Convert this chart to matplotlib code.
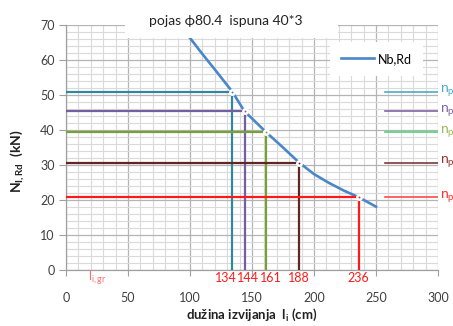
import matplotlib
matplotlib.use("Agg")
import matplotlib.pyplot as plt
from matplotlib.patches import Rectangle
from matplotlib.ticker import MultipleLocator

#%% --- Data ---

# buckling resistance curve Nb,Rd along the buckling length
duzina = [100, 110, 120, 134, 144, 150, 161, 175, 188, 200, 212, 224, 236, 250]
nb_rd = [66.3, 61.7, 57.3, 51.0, 45.3, 43.3, 39.5, 35.0, 30.7, 27.4, 24.9, 22.7, 20.8, 18.1]

# force levels n_p and the matching buckling lengths
np_levels = [51.0, 45.3, 39.5, 30.7, 20.8]
np_lengths = [134, 144, 161, 188, 236]
np_colors = ["#31889e", "#7460a0", "#77a03a", "#632523", "#ff1a1a"]
np_key_colors = ["#4bacc6", "#8064a2", "#4fd27a", "#7a3b3b", "#ff4a4a"]
np_text_colors = ["#4bacc6", "#8064a2", "#9bbb59", "#943634", "#ff3030"]
label_shift = [-6, 3, 5, 0, 0]   # px, keeps the crowded labels apart

x_ticks = [0, 50, 100, 150, 200, 250, 300]
y_ticks = [0, 10, 20, 30, 40, 50, 60, 70]

#%% --- Style ---

plt.rcParams["font.family"] = ["Lato", "DejaVu Sans"]
plt.rcParams["mathtext.fontset"] = "custom"
plt.rcParams["mathtext.rm"] = "Lato"
plt.rcParams["mathtext.bf"] = "Lato:bold"
plt.rcParams["mathtext.it"] = "Lato:italic"

#%% --- Figure ---

fig = plt.figure(figsize=(4.53, 3.26), dpi=100)
ax = fig.add_axes([66 / 453, 56 / 326, 372 / 453, 245 / 326])

ax.set_xlim(0, 300)
ax.set_ylim(0, 70)
ax.set_xticks(x_ticks)
ax.set_yticks(y_ticks)
ax.xaxis.set_minor_locator(MultipleLocator(10))
ax.yaxis.set_minor_locator(MultipleLocator(2))
ax.grid(which="major", color="#b4b4b4", lw=0.9, zorder=0)
ax.grid(which="minor", color="#dadada", lw=0.8, zorder=0)
ax.set_axisbelow(True)

for side in ["top", "right"]:
    ax.spines[side].set_visible(False)
for side in ["left", "bottom"]:
    ax.spines[side].set_color("#a0a0a0")
    ax.spines[side].set_linewidth(0.9)

ax.tick_params(which="major", axis="y", length=5, color="#a0a0a0",
               labelsize=9, labelcolor="#404040", pad=3)
ax.tick_params(which="major", axis="x", length=4, color="#a0a0a0",
               labelsize=9, labelcolor="#404040", pad=12)
ax.tick_params(which="minor", length=0)

# buckling curve
ax.plot(duzina, nb_rd, color="#4a86c8", lw=1.9, zorder=3, label="Nb,Rd")

# n_p levels: horizontal to the curve, then down to the axis
for lvl, length, col in zip(np_levels, np_lengths, np_colors):
    ax.plot([0, length, length], [lvl, lvl, 0], color=col, lw=1.6,
            zorder=4, solid_capstyle="butt")
    ax.plot([length], [lvl], marker="o", ms=3.2, mfc=col, mec="white",
            mew=1.8, zorder=5)

# length labels under the axis
for length, col, dx in zip(np_lengths, np_colors, label_shift):
    ax.annotate(str(length), xy=(length, 0), xytext=(dx, -8),
                textcoords="offset pixels", ha="center", va="center",
                color="#ff1a1a", fontsize=9, annotation_clip=False)

ax.annotate(r"l$_{\mathrm{i,gr}}$", xy=(18, 0), xytext=(0, -8),
            textcoords="offset pixels", ha="left", va="center",
            color="#ff6b6b", fontsize=9, annotation_clip=False)

# short n_p keys on the right side
for lvl, kcol, tcol in zip(np_levels, np_key_colors, np_text_colors):
    ax.plot([257, 300], [lvl, lvl], color=kcol, lw=1.2, zorder=2)
    ax.text(302, lvl, r"n$_{\mathrm{p}}$", color=tcol, fontsize=10,
            ha="left", va="center", clip_on=False)

# title with white background
ax.add_patch(Rectangle((0.159, 0.946), 0.572, 0.1, transform=ax.transAxes,
                       facecolor="white", edgecolor="none", zorder=6,
                       clip_on=False))
ax.text(0.43, 1.015, "pojas \u03d580.4  ispuna 40*3", transform=ax.transAxes,
        ha="center", va="center", fontsize=10, color="#222222", zorder=7)

leg = ax.legend(loc="center", bbox_to_anchor=(0.835, 0.862), fontsize=9,
                frameon=True, fancybox=False, handlelength=2.6,
                borderpad=0.9, handletextpad=0.3)
leg.get_frame().set_facecolor("white")
leg.get_frame().set_edgecolor("none")
leg.get_frame().set_alpha(1)
leg.set_zorder(6)

ax.set_xlabel(r"dužina izvijanja  l$_{\mathbf{i}}$ (cm)", fontsize=9.5,
              fontweight="bold", color="#222222")
ax.xaxis.set_label_coords(0.5, -0.15)
ax.set_ylabel(r"$\mathbf{N}_{\mathbf{I,Rd}}$  (kN)", fontsize=10,
              fontweight="bold", color="#222222")
ax.yaxis.set_label_coords(-0.105, 0.445)

fig.savefig("out.png", dpi=100)
